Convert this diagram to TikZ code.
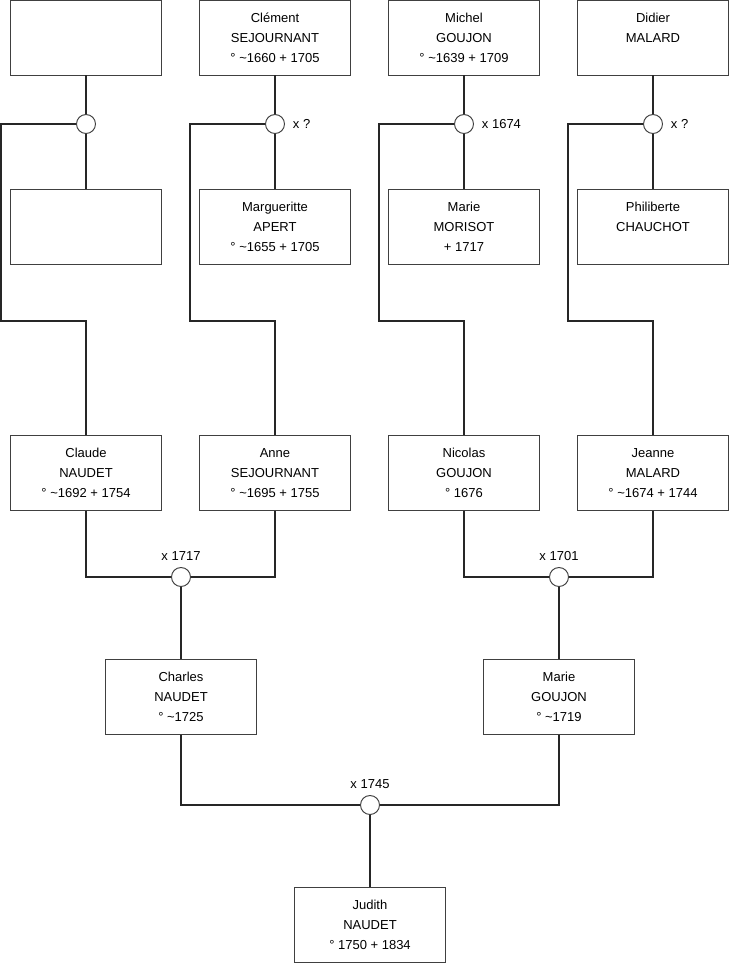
\documentclass[tikz,border=0pt]{standalone}
\usepackage{fontspec}
\setmainfont{Liberation Sans}
\usepackage{tikz}
\usetikzlibrary{positioning}

\begin{document}
\begin{tikzpicture}[
    x=0.02cm, y=-0.02cm,
    font=\fontsize{7.4}{11.3}\selectfont,
    person/.style={draw=black!75, line width=0.55pt, minimum width=3.02cm, minimum height=1.5cm, align=center, inner sep=0pt},
    union/.style={draw=black!75, line width=0.55pt, circle, minimum size=0.38cm, inner sep=0pt, fill=white},
    lien/.style={draw=black!85, line width=0.6pt},
]
\useasboundingbox (0,0) rectangle (740,975);

% --- Arrière-arrière-grands-parents ---
\node[person] (p1) at (86, 37.5) {};
\node[person] (p2) at (275, 37.5) {Clément \\ SEJOURNANT \\ ° \textasciitilde1660 + 1705};
\node[person] (p3) at (464, 37.5) {Michel \\ GOUJON \\ ° \textasciitilde1639 + 1709};
\node[person] (p4) at (653, 37.5) {Didier \\ MALARD \\ \mbox{}};

\node[person] (m1) at (86, 227) {};
\node[person] (m2) at (275, 227) {Margueritte \\ APERT \\ ° \textasciitilde1655 + 1705};
\node[person] (m3) at (464, 227) {Marie \\ MORISOT \\ + 1717};
\node[person] (m4) at (653, 227) {Philiberte \\ CHAUCHOT \\ \mbox{}};

% --- Unions du haut ---
\node[union] (u1) at (86, 124) {};
\node[union, label={[label distance=1pt]right:x ?}] (u2) at (275, 124) {};
\node[union, label={[label distance=1pt]right:x 1674}] (u3) at (464, 124) {};
\node[union, label={[label distance=1pt]right:x ?}] (u4) at (653, 124) {};

% --- Arrière-grands-parents ---
\node[person] (g1) at (86, 473) {Claude \\ NAUDET \\ ° \textasciitilde1692 + 1754};
\node[person] (g2) at (275, 473) {Anne \\ SEJOURNANT \\ ° \textasciitilde1695 + 1755};
\node[person] (g3) at (464, 473) {Nicolas \\ GOUJON \\ ° 1676};
\node[person] (g4) at (653, 473) {Jeanne \\ MALARD \\ ° \textasciitilde1674 + 1744};

\node[union, label={[label distance=0pt]above:x 1717}] (v1) at (181, 577) {};
\node[union, label={[label distance=0pt]above:x 1701}] (v2) at (559, 577) {};

% --- Grands-parents ---
\node[person] (c1) at (181, 697) {Charles \\ NAUDET \\ ° \textasciitilde1725};
\node[person] (c2) at (559, 697) {Marie \\ GOUJON \\ ° \textasciitilde1719};

\node[union, label={[label distance=0pt]above:x 1745}] (w) at (370, 805) {};

\node[person] (judith) at (370, 925) {Judith \\ NAUDET \\ ° 1750 + 1834};

% --- Liens verticaux des couples du haut ---
\foreach \i in {1,...,4} {
  \draw[lien] (p\i) -- (u\i);
  \draw[lien] (u\i) -- (m\i);
}

% --- Descente vers les enfants ---
\draw[lien] (u1.west) -| (1, 321) -| (g1.north);
\draw[lien] (u2.west) -| (190, 321) -| (g2.north);
\draw[lien] (u3.west) -| (379, 321) -| (g3.north);
\draw[lien] (u4.west) -| (568, 321) -| (g4.north);

% --- Couples du milieu ---
\draw[lien] (g1.south) |- (v1.west);
\draw[lien] (g2.south) |- (v1.east);
\draw[lien] (g3.south) |- (v2.west);
\draw[lien] (g4.south) |- (v2.east);
\draw[lien] (v1) -- (c1);
\draw[lien] (v2) -- (c2);

% --- Dernier couple ---
\draw[lien] (c1.south) |- (w.west);
\draw[lien] (c2.south) |- (w.east);
\draw[lien] (w) -- (judith);

\end{tikzpicture}
\end{document}
